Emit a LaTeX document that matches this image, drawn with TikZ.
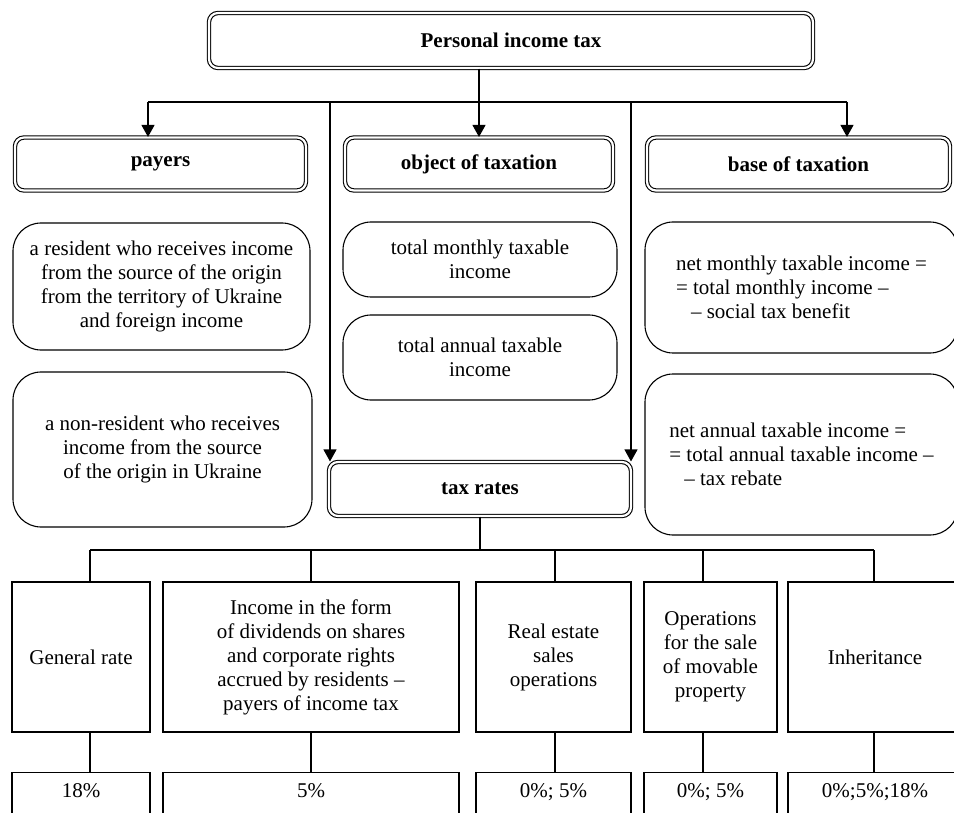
\documentclass[tikz,border=0pt]{standalone}
\usepackage{fontspec}
\setmainfont{Liberation Serif}
\usetikzlibrary{arrows.meta}
\begin{document}
\begin{tikzpicture}[x=1pt,y=-1pt,line width=1.1pt,
  txt/.style={font=\fontsize{21}{24}\selectfont},
  hdrbox/.style={draw,double,double distance=2.2pt,rounded corners=9pt,inner sep=0pt,
    font=\fontsize{21}{24}\selectfont\bfseries},
  subbox/.style={txt,draw,rounded corners=28pt,align=center,inner sep=0pt},
  ratebox/.style={txt,draw,align=center,inner sep=0pt},
  valbox/.style={txt,draw,anchor=north,inner xsep=0pt,inner ysep=8pt,text height=17pt,text depth=40pt},
  arr/.style={-{Triangle[length=12pt,width=13pt]}}]

\clip (0,0) rectangle (954,813);

\node[hdrbox,minimum width=604pt,minimum height=55pt] (tax) at (511,40.5) {Personal income tax};

\foreach \nm/\cx/\w/\txt in {pay/160.5/291/payers,obj/479/268/object of taxation,
                              base/798.5/303/base of taxation}{ % header of each column
  \node[hdrbox,minimum width=\w pt,minimum height=53pt] (\nm) at (\cx,164) {\txt};
}
\node[hdrbox,minimum width=302pt,minimum height=54pt] (rates) at (480,489) {tax rates};

% boxes under the headers
\node[subbox,minimum width=297pt,minimum height=127pt] (res) at (161.5,286.5)
  {a resident who receives income\\from the source of the origin\\from the territory of Ukraine\\and foreign income};
\node[subbox,minimum width=299pt,minimum height=155pt] (nonres) at (162.5,449.5)
  {a non-resident who receives\\income from the source\\of the origin in Ukraine};
\node[subbox,minimum width=274pt,minimum height=75pt] (objm) at (480,259.5)
  {total monthly taxable\\income};
\node[subbox,minimum width=274pt,minimum height=85pt] (obja) at (480,357.5)
  {total annual taxable\\income};
\node[subbox,align=left,minimum width=313pt,minimum height=131pt] (basem) at (801.5,287.5)
  {net monthly taxable income =\\= total monthly income --\\\hspace*{15pt}-- social tax benefit};
\node[subbox,align=left,minimum width=313pt,minimum height=161pt] (basea) at (801.5,454.5)
  {net annual taxable income =\\= total annual taxable income --\\\hspace*{15pt}-- tax rebate};

\coordinate (bl) at (148,102);
\coordinate (br) at (847,102);
\coordinate (vl) at (330,102);
\coordinate (vr) at (631,102);
\draw (bl) -- (br);
\draw[arr] (bl) -- (bl |- pay.north);
\draw[arr] (br) -- (br |- base.north);
\draw[arr] (tax.south -| obj.north) -- (obj.north);
\draw[arr] (vl) -- (vl |- rates.north);
\draw[arr] (vr) -- (vr |- rates.north);

\foreach \nm/\xl/\xr/\sx/\txt/\val [evaluate={\cx=(\xl+\xr)/2; \w=\xr-\xl;}]
    in {gen/12/150/90/{General rate}/{18\%},
        div/163/459/311/{Income in the form\\of dividends on shares\\and corporate rights\\accrued by residents --\\payers of income tax}/{5\%},
        est/476/631/555/{Real estate\\sales\\operations}/{0\%; 5\%},
        mov/644/777/703/{Operations\\for the sale\\of movable\\property}/{0\%; 5\%},
        inh/788/962/874/{Inheritance}/{0\%;5\%;18\%}}{ % loop over rates
  \node[ratebox,minimum width=\w pt,minimum height=150pt] (\nm) at (\cx,657) {\txt};
  \node[valbox,minimum width=\w pt] (\nm-v) at (\cx,772) {\val};
  \coordinate (s-\nm) at (\sx,550);
  \draw (s-\nm) -- (s-\nm |- \nm.north);
  \draw (s-\nm |- \nm.south) -- (s-\nm |- \nm-v.north);
}
\draw (s-gen) -- (s-inh);
\draw (rates.south) -- (rates.south |- s-gen);
\end{tikzpicture}
\end{document}
